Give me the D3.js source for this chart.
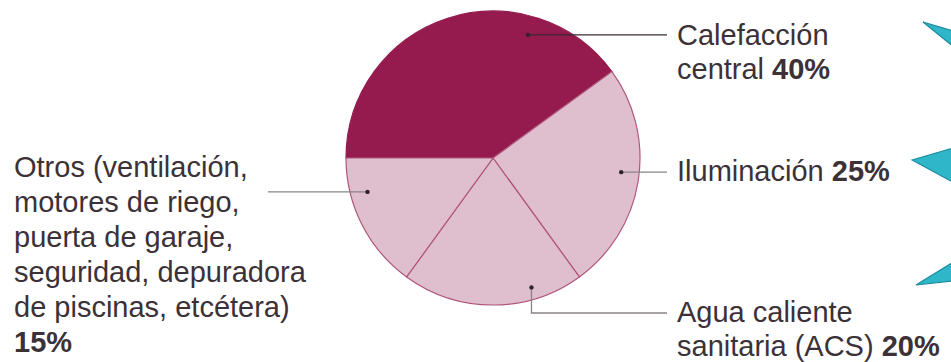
<!DOCTYPE html>
<html>
<head>
<meta charset="utf-8">
<script src="https://cdn.jsdelivr.net/npm/d3@7.9.0/dist/d3.min.js"></script>
<style>
  html, body { margin: 0; padding: 0; background: #fff; }
  svg { display: block; font-family: "Liberation Sans", Arial, sans-serif; }
</style>
</head>
<body>
<div id="chart"></div>
<script>
// data
const categories = ['Calefacción central', 'Iluminación', 'Agua caliente sanitaria (ACS)', 'Otros'];
const values = [40, 25, 20, 15];
// label lines (last line gets the bold percentage; empty = percentage alone)
const labelLines = [
  ['Calefacción', 'central'],
  ['Iluminación'],
  ['Agua caliente', 'sanitaria (ACS)'],
  ['Otros (ventilación,', 'motores de riego,', 'puerta de garaje,', 'seguridad, depuradora', 'de piscinas, etcétera)', '']
];

const width = 951;
const height = 362;
const cx = 493, cy = 158, radius = 147;
const sliceColors = ['#951b4f', '#dfbfcd', '#dfbfcd', '#dfbfcd'];

const svg = d3.select('#chart')
  .append('svg')
  .attr('width', width)
  .attr('height', height);

// pie starts at 9 o'clock, goes clockwise
const pie = d3.pie()
  .sort(null)
  .startAngle(-Math.PI / 2)
  .endAngle(Math.PI * 1.5)
  .value((d) => d);

const arc = d3.arc().innerRadius(0).outerRadius(radius);
const arcs = pie(values);

const g = svg.append('g').attr('transform', `translate(${cx},${cy})`);

g.selectAll('path')
  .data(arcs)
  .join('path')
  .attr('d', arc)
  .attr('fill', (d, i) => sliceColors[i])
  .attr('stroke', (d, i) => i === 0 ? '#951b4f' : '#b0567c')
  .attr('stroke-width', 1.2);

// leader anchors: position inside slice (fraction of its angle) and radius
const anchors = [
  { t: 0.735, r: 128 },
  { t: 0.47, r: 129 },
  { t: 0.27, r: 135 },
  { t: 0.72, r: 130 }
];

function anchorPoint(i) {
  const a = arcs[i];
  const ang = a.startAngle + (a.endAngle - a.startAngle) * anchors[i].t;
  return [cx + anchors[i].r * Math.sin(ang), cy - anchors[i].r * Math.cos(ang)];
}

const leaders = svg.append('g').attr('class', 'leaders');
const lineEndRight = 667;
const lineEndLeft = 268;

arcs.forEach((a, i) => {
  const [px, py] = anchorPoint(i);
  let pts;
  if (i === 2) {
    pts = [[px, py], [px, 313], [lineEndRight, 313]];
  } else if (i === 3) {
    pts = [[px, py], [lineEndLeft, py]];
  } else {
    pts = [[px, py], [lineEndRight, py]];
  }
  leaders.append('path')
    .attr('d', d3.line()(pts))
    .attr('fill', 'none')
    .attr('stroke', i === 0 ? '#3a2a33' : '#8a8388')
    .attr('stroke-width', 1.3);
  leaders.append('circle')
    .attr('cx', px)
    .attr('cy', py)
    .attr('r', 2.2)
    .attr('fill', '#2e2329');
});

// labels
const textColor = '#3b3137';
const labelPos = [
  { x: 677, y: 45, lh: 34 },
  { x: 677, y: 181, lh: 34 },
  { x: 677, y: 322, lh: 34 },
  { x: 14, y: 177, lh: 35 }
];

labelLines.forEach((lines, i) => {
  const p = labelPos[i];
  const t = svg.append('text')
    .attr('font-size', 29)
    .attr('fill', textColor);
  lines.forEach((ln, j) => {
    const last = j === lines.length - 1;
    const row = t.append('tspan')
      .attr('x', p.x)
      .attr('y', p.y + j * p.lh);
    if (ln !== '') row.text(ln + (last ? ' ' : ''));
    if (last) {
      const pct = ln === ''
        ? row.attr('font-weight', 'bold')
        : t.append('tspan').attr('font-weight', 'bold');
      pct.text(values[i] + '%');
    }
  });
});

// decorative cyan pointers on the right edge
const pointers = [
  [[923, 22], [960, 33], [960, 52]],
  [[912, 160], [960, 146], [960, 186]],
  [[916, 285], [960, 258], [960, 280]]
];
svg.append('g')
  .selectAll('polygon')
  .data(pointers)
  .join('polygon')
  .attr('points', (d) => d.map((p) => p.join(',')).join(' '))
  .attr('fill', '#2fb6c9')
  .attr('stroke', '#1a8c9e')
  .attr('stroke-width', 1.2);
</script>
</body>
</html>
